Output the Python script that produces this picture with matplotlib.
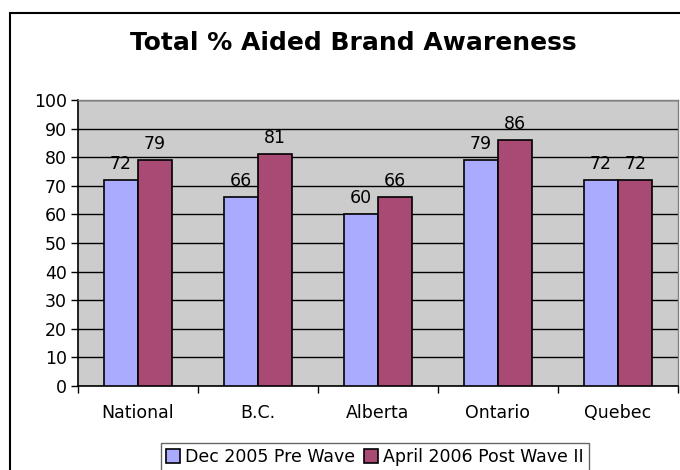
import matplotlib
matplotlib.use("Agg")
import matplotlib.pyplot as plt
from matplotlib.patches import Rectangle
import numpy as np

categories = ["National", "B.C.", "Alberta", "Ontario", "Quebec"]
pre_wave = [72, 66, 60, 79, 72]
post_wave = [79, 81, 66, 86, 72]
series_names = ["Dec 2005 Pre Wave", "April 2006 Post Wave II"]
colors = ["#AAAAFF", "#A94A74"]
yticks = list(range(0, 101, 10))

W, H = 680, 470
fig = plt.figure(figsize=(W / 100, H / 100), dpi=100)
fig.patch.set_facecolor("white")

# outer chart border
fig.add_artist(Rectangle((9.5 / W, -0.05), 1.1, (1 - 12.5 / H) + 0.05,
                         transform=fig.transFigure, fill=False,
                         edgecolor="black", linewidth=1.5, clip_on=False))

left, right, top, bottom = 78, 678, 100, 386
ax = fig.add_axes([left / W, 1 - bottom / H, (right - left) / W, (bottom - top) / H])
ax.set_facecolor("#CCCCCC")

fs = 12.5
x = np.arange(len(categories))
bw = 1 / 3.5
b1 = ax.bar(x - bw / 2, pre_wave, bw, color=colors[0], edgecolor="black",
            linewidth=1.2, label=series_names[0], zorder=3)
b2 = ax.bar(x + bw / 2, post_wave, bw, color=colors[1], edgecolor="black",
            linewidth=1.2, label=series_names[1], zorder=3)
for bars in (b1, b2):
    for r in bars:
        ax.annotate(f"{int(r.get_height())}", (r.get_x() + r.get_width() / 2, r.get_height()),
                    xytext=(0, 5), textcoords="offset points", ha="center", va="bottom",
                    fontsize=fs, color="black", zorder=4)

ax.set_xlim(-0.5, len(categories) - 0.5)
ax.set_ylim(0, 100)
ax.set_yticks(yticks)
ax.set_yticklabels([str(v) for v in yticks], fontsize=fs)
ax.yaxis.grid(True, color="black", linewidth=1, zorder=1)
ax.set_axisbelow(True)

ax.set_xticks(x)
ax.set_xticklabels(categories, fontsize=fs)
ax.tick_params(axis="x", length=0, pad=13)
ax.set_xticks(np.arange(-0.5, len(categories), 1), minor=True)
ax.tick_params(axis="x", which="minor", length=5, width=1, color="black")
ax.tick_params(axis="y", length=5, width=1, color="black", pad=3)

for s in ("top", "right"):
    ax.spines[s].set_color("#808080")
    ax.spines[s].set_linewidth(1)
ax.spines["left"].set_color("black")
ax.spines["bottom"].set_color("black")
ax.spines["left"].set_linewidth(1.2)
ax.spines["bottom"].set_linewidth(1.2)

fig.text(353 / W, 1 - 43 / H, "Total % Aided Brand Awareness", ha="center", va="center",
         fontsize=18, fontweight="bold")

leg = fig.legend(handles=[b1, b2], labels=series_names, loc="center",
                 bbox_to_anchor=(375 / W, 1 - 457 / H), ncol=2, frameon=True,
                 fancybox=False, edgecolor="#404040", fontsize=fs,
                 handlelength=0.8, handleheight=0.8, handletextpad=0.3,
                 columnspacing=0.5, borderpad=0.3, borderaxespad=0)
leg.get_frame().set_linewidth(1)

fig.savefig("out.png", dpi=100)
